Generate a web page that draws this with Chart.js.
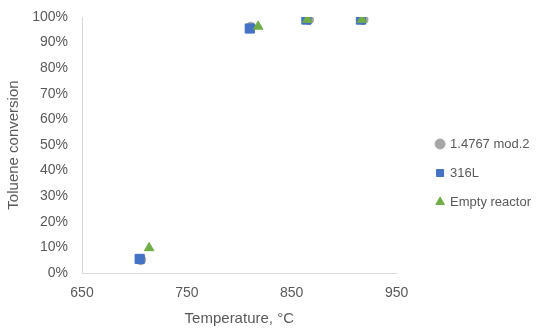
<!DOCTYPE html>
<html>
<head>
<meta charset="utf-8">
<script src="https://cdn.jsdelivr.net/npm/chart.js@4"></script>
<style>
  html, body { margin: 0; padding: 0; background: #fff; }
  #wrap { width: 550px; height: 331px; }
</style>
</head>
<body>
<div id="wrap"><canvas id="chart" width="550" height="331"></canvas></div>
<script>
// Data
const seriesNames = ['1.4767 mod.2', '316L', 'Empty reactor'];
const tempMod2 = [706, 811, 866, 918];
const convMod2 = [5.2, 96, 99, 99];
const temp316L = [705, 810, 864, 916];
const conv316L = [5.5, 95.5, 99, 99];
const tempEmpty = [714, 818, 865, 917];
const convEmpty = [9.8, 96.3, 99, 99];
const xTicks = [650, 750, 850, 950];

const textColor = '#595959';
const axisColor = '#d9d9d9';

function toPoints(xs, ys) {
    return xs.map((x, i) => ({ x: x, y: ys[i] }));
}

// nudge the legend to where the reference has it
const legendShift = {
    id: 'legendShift',
    afterLayout(chart) {
        const lg = chart.legend;
        lg.left += 24;
        lg.right += 24;
        lg.top -= 1;
        lg.bottom -= 1;
    }
};

const ctx = document.getElementById('chart').getContext('2d');
const chart = new Chart(ctx, {
    type: 'scatter',
    data: {
        datasets: [
            {
                label: seriesNames[0],
                data: toPoints(tempMod2, convMod2),
                order: 3,
                pointStyle: 'circle',
                pointRadius: 5,
                backgroundColor: '#a5a5a5',
                borderColor: '#a5a5a5'
            },
            {
                label: seriesNames[1],
                data: toPoints(temp316L, conv316L),
                order: 2,
                pointStyle: 'rect',
                pointRadius: 6.5,
                backgroundColor: '#4472c4',
                borderColor: '#4472c4'
            },
            {
                label: seriesNames[2],
                data: toPoints(tempEmpty, convEmpty),
                order: 1,
                pointStyle: 'triangle',
                pointRadius: 5.5,
                backgroundColor: '#70ad47',
                borderColor: '#70ad47'
            }
        ]
    },
    options: {
        responsive: false,
        animation: false,
        layout: {
            padding: { top: 17, right: 33, left: 0, bottom: 0 }
        },
        scales: {
            x: {
                type: 'linear',
                min: 650,
                max: 950,
                afterBuildTicks: function (axis) {
                    axis.ticks = xTicks.map(v => ({ value: v }));
                },
                afterFit: function (axis) {
                    axis.height = 58;
                },
                grid: { display: false, drawTicks: false },
                border: { display: true, color: axisColor, width: 1 },
                ticks: {
                    color: textColor,
                    font: { family: 'Liberation Sans, Arial', size: 14 },
                    padding: 12
                },
                title: {
                    display: true,
                    text: 'Temperature, °C',
                    color: textColor,
                    font: { family: 'Liberation Sans, Arial', size: 15 },
                    padding: { top: 2, bottom: 3 }
                }
            },
            y: {
                min: 0,
                max: 100,
                afterFit: function (axis) {
                    axis.width = 82;
                    axis.paddingTop = 0;
                    axis.paddingBottom = 0;
                },
                grid: { display: false, drawTicks: false },
                border: { display: true, color: axisColor, width: 1 },
                ticks: {
                    stepSize: 10,
                    color: textColor,
                    font: { family: 'Liberation Sans, Arial', size: 14 },
                    padding: 14,
                    callback: function (value) {
                        return value + '%';
                    }
                },
                title: {
                    display: true,
                    text: 'Toluene conversion',
                    color: textColor,
                    font: { family: 'Liberation Sans, Arial', size: 15 },
                    padding: { top: 5, bottom: 0 }
                }
            }
        },
        plugins: {
            legend: {
                position: 'right',
                labels: {
                    usePointStyle: true,
                    color: textColor,
                    boxWidth: 7,
                    boxHeight: 7,
                    padding: 16,
                    font: { family: 'Liberation Sans, Arial', size: 13 },
                    sort: function (a, b) {
                        return a.datasetIndex - b.datasetIndex;
                    }
                }
            },
            tooltip: { enabled: false }
        }
    },
    plugins: [legendShift]
});
</script>
</body>
</html>
